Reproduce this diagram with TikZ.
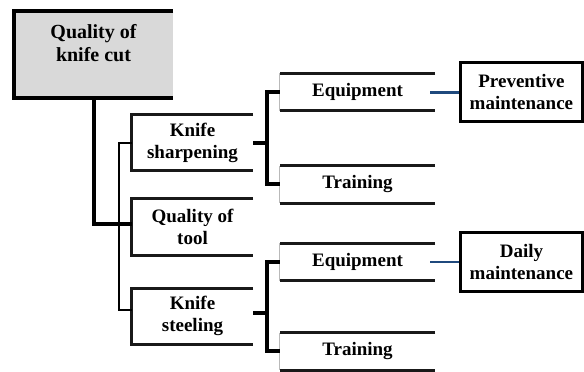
\documentclass[tikz,border=0pt]{standalone}
\usepackage{fontspec}
\setmainfont{Liberation Serif}
\usepackage{tikz}
\usetikzlibrary{positioning, calc}
\definecolor{cutgray}{RGB}{217,217,217}
\definecolor{linkblue}{RGB}{31,73,125}
\definecolor{edgegray}{RGB}{185,185,185}

\begin{document}
\begin{tikzpicture}[
  x=1pt, y=1pt,
  rootbox/.style={rectangle, fill=cutgray, minimum width=159pt, minimum height=87pt,
                  align=center, font=\fontsize{20}{23}\selectfont\bfseries,
                  text height=37pt, text depth=24pt},
  midbox/.style={rectangle, minimum width=121pt, minimum height=56pt, align=center,
                 font=\fontsize{19}{22}\selectfont\bfseries},
  subbox/.style={rectangle, minimum width=155pt, minimum height=37pt, align=center,
                 font=\fontsize{19}{22}\selectfont\bfseries},
  notebox/.style={rectangle, draw, line width=2.5pt, minimum width=122pt, minimum height=59pt,
                  align=center, font=\fontsize{19}{22}\selectfont\bfseries},
  heavy/.style={line width=4pt},
  edgeline/.style={line width=3pt, black!90},
  thinline/.style={line width=2pt},
  bluelink/.style={draw=linkblue, line width=3pt},
]
  \useasboundingbox (0,0) rectangle (584,-372);

  \node[rootbox] (root) at (93.5,-54.5) {Quality of\\knife cut};
  \node[midbox] (sharp) at (192.5,-142.5) {Knife\\sharpening};
  \node[midbox, below=28pt of sharp] (tool) {Quality of\\tool};
  \node[midbox, below=33pt of tool] (steel) {Knife\\steeling};
  \node[subbox] (equip1) at (357.5,-92) {Equipment};
  \node[subbox, below=55pt of equip1] (train1) {Training};
  \node[subbox] (equip2) at (357.5,-262) {Equipment};
  \node[subbox, below=52pt of equip2] (train2) {Training};
  \node[notebox, right=24pt of equip1] (prev) {Preventive\\maintenance};
  \node[notebox, right=24pt of equip2] (daily) {Daily\\maintenance};

  % open boxes
  \draw[heavy] (root.north east) -- (root.north west) -- (root.south west) -- (root.south east);
  \foreach \n in {sharp,tool,steel}
    \draw[edgeline] (\n.north east) -- (\n.north west) -- (\n.south west) -- (\n.south east);
  \foreach \n in {equip1,train1,equip2,train2} {
    \draw[edgeline] (\n.north east) -- (\n.north west);
    \draw[edgeline] (\n.south west) -- (\n.south east);
    \draw[edgegray, line width=1pt] (\n.north west) -- (\n.south west);
  }

  % connectors
  \draw[heavy] (root) |- ([yshift=3pt]tool.west);
  \draw[thinline] (sharp.west) -- ++(-13pt,0) |- ([yshift=6pt]steel.west);
  \draw[heavy] (sharp.east) -- ++(14pt,0) coordinate (sjoint);
  \draw[heavy] (equip1.west) -| (sjoint) |- (train1.west);
  \draw[heavy] ([yshift=3pt]steel.east) -- ++(14pt,0) coordinate (tjoint);
  \draw[heavy] (equip2.west) -| (tjoint) |- (train2.west);
  \draw[bluelink] ([xshift=-5pt]equip1.east) -- (prev);
  \draw[draw=linkblue, line width=1.2pt] ([xshift=-5pt]equip2.east) -- (daily);
\end{tikzpicture}
\end{document}
